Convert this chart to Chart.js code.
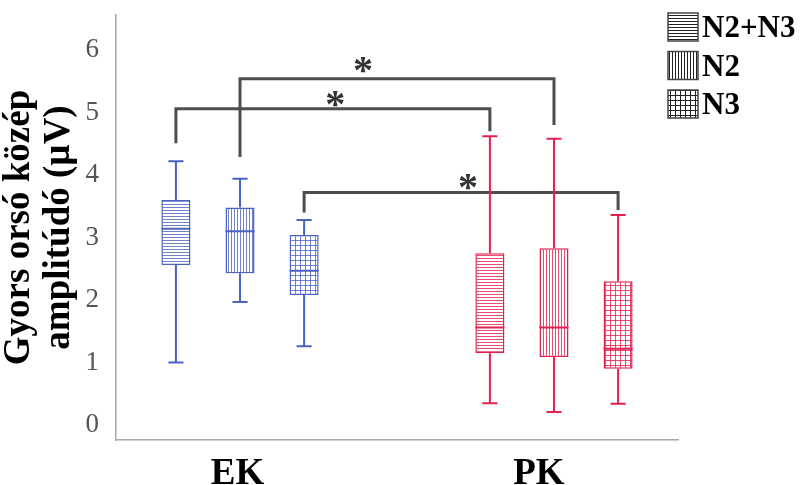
<!DOCTYPE html>
<html>
<head>
<meta charset="utf-8">
<script src="https://cdn.jsdelivr.net/npm/chart.js@4"></script>
<style>
  html, body { margin: 0; padding: 0; background: #fff; }
</style>
</head>
<body>
<canvas id="chart" width="803" height="485"></canvas>
<script>
const categories = ['EK', 'PK'];
const groupX = [1, 2];
const tickX = [0.992, 1.952];
const yTicks = [0, 1, 2, 3, 4, 5, 6];
const seriesNames = ['N2+N3', 'N2', 'N3'];
const patternKinds = ['h', 'v', 'grid'];

// one row per series, values for [EK, PK]
const whiskerLow = [[1.00, 0.35], [1.97, 0.21], [1.26, 0.34]];
const quart1 = [[2.56, 1.15], [2.43, 1.09], [2.08, 0.90]];
const medians = [[3.14, 1.56], [3.10, 1.56], [2.47, 1.22]];
const quart3 = [[3.60, 2.75], [3.48, 2.83], [3.04, 2.30]];
const whiskerHigh = [[4.22, 4.62], [3.94, 4.58], [3.28, 3.36]];

// significance brackets: series i in EK vs series i in PK
const bracketTop = [5.06, 5.54, 3.72];
const bracketLeftEnd = [4.51, 4.29, 3.40];
const bracketRightEnd = [4.70, 4.80, 3.44];
const starX = [1.303, 1.392, 1.726];
const starY = [5.25, 5.79, 3.92];

const groupLine = ['#4a63c0', '#e3204f'];
const groupHatch = ['rgba(74,99,192,0.8)', 'rgba(227,32,79,0.8)'];

function hatch(kind, color) {
  const s = kind === 'grid' ? 5 : 3;
  const c = document.createElement('canvas');
  c.width = s;
  c.height = s;
  const g = c.getContext('2d');
  g.fillStyle = '#fff';
  g.fillRect(0, 0, s, s);
  g.fillStyle = color;
  if (kind !== 'v') g.fillRect(0, 0, s, 1);
  if (kind !== 'h') g.fillRect(0, 0, 1, s);
  return g.createPattern(c, 'repeat');
}

const datasets = seriesNames.map((name, s) => ({
  label: name,
  data: groupX.map((x, i) => ({ x: x, y: [quart1[s][i], quart3[s][i]] })),
  backgroundColor: groupHatch.map(c => hatch(patternKinds[s], c)),
  borderColor: groupLine,
  borderWidth: 1.5,
  borderSkipped: false,
  categoryPercentage: 0.638,
  barPercentage: 0.453
}));

// whiskers, medians and the significance brackets
const boxExtras = {
  id: 'boxExtras',
  afterDatasetsDraw(chart) {
    const ctx = chart.ctx;
    const x = chart.scales.x, y = chart.scales.y;

    ctx.save();
    ctx.strokeStyle = '#4d4d4d';
    ctx.lineWidth = 3;
    ctx.lineJoin = 'miter';
    bracketTop.forEach((top, k) => {
      const a = chart.getDatasetMeta(k).data[0].x;
      const b = chart.getDatasetMeta(k).data[1].x;
      ctx.beginPath();
      ctx.moveTo(a, y.getPixelForValue(bracketLeftEnd[k]));
      ctx.lineTo(a, y.getPixelForValue(top));
      ctx.lineTo(b, y.getPixelForValue(top));
      ctx.lineTo(b, y.getPixelForValue(bracketRightEnd[k]));
      ctx.stroke();
    });
    ctx.fillStyle = '#333';
    ctx.font = 'bold 40px "Liberation Serif"';
    ctx.textAlign = 'center';
    ctx.textBaseline = 'alphabetic';
    starX.forEach((sx, k) => {
      ctx.fillText('*', x.getPixelForValue(sx), y.getPixelForValue(starY[k]) + 20);
    });
    ctx.restore();

    seriesNames.forEach((_, s) => {
      chart.getDatasetMeta(s).data.forEach((bar, i) => {
        const half = bar.width / 2, cap = bar.width * 0.26;
        const hi = y.getPixelForValue(whiskerHigh[s][i]);
        const lo = y.getPixelForValue(whiskerLow[s][i]);
        const med = y.getPixelForValue(medians[s][i]);
        ctx.save();
        ctx.strokeStyle = groupLine[i];
        ctx.lineWidth = 2;
        ctx.beginPath();
        ctx.moveTo(bar.x, y.getPixelForValue(quart3[s][i]));
        ctx.lineTo(bar.x, hi);
        ctx.moveTo(bar.x - cap, hi);
        ctx.lineTo(bar.x + cap, hi);
        ctx.moveTo(bar.x, y.getPixelForValue(quart1[s][i]));
        ctx.lineTo(bar.x, lo);
        ctx.moveTo(bar.x - cap, lo);
        ctx.lineTo(bar.x + cap, lo);
        ctx.moveTo(bar.x - half, med);
        ctx.lineTo(bar.x + half, med);
        ctx.stroke();
        ctx.restore();
      });
    });
  }
};

// legend with black hatch swatches in the top right corner
const hatchLegend = {
  id: 'hatchLegend',
  afterDraw(chart) {
    const ctx = chart.ctx;
    const left = chart.width - 135;
    ctx.save();
    ctx.font = 'bold 31px "Liberation Serif"';
    ctx.textBaseline = 'alphabetic';
    ctx.textAlign = 'left';
    seriesNames.forEach((name, s) => {
      const top = 13 + s * 38.5;
      ctx.fillStyle = hatch(patternKinds[s], '#222');
      ctx.fillRect(left, top, 30, 28);
      ctx.strokeStyle = '#444';
      ctx.lineWidth = 1.5;
      ctx.strokeRect(left, top, 30, 28);
      ctx.fillStyle = '#000';
      ctx.fillText(name, left + 34, top + 24);
    });
    ctx.restore();
  }
};

new Chart(document.getElementById('chart'), {
  type: 'bar',
  data: { datasets: datasets },
  options: {
    responsive: false,
    animation: false,
    layout: { padding: { top: 15, right: 125, left: 0, bottom: 0 } },
    plugins: {
      legend: { display: false },
      tooltip: { enabled: false }
    },
    scales: {
      x: {
        type: 'linear',
        offset: false,
        min: 0.605,
        max: 2.395,
        afterBuildTicks: ax => { ax.ticks = tickX.map(v => ({ value: v })); },
        afterFit: ax => { ax.height = 45; ax.paddingLeft = 0; ax.paddingRight = 0; },
        grid: { display: false },
        border: { display: true, color: '#a6a6a6', width: 1.5 },
        ticks: {
          autoSkip: false,
          maxRotation: 0,
          padding: 4,
          color: '#000',
          font: { family: 'Liberation Serif', size: 37, weight: 'bold' },
          callback: (v, i) => categories[i]
        }
      },
      y: {
        min: -0.24,
        max: 6.56,
        afterBuildTicks: ax => { ax.ticks = yTicks.map(v => ({ value: v })); },
        afterFit: ax => { ax.width = 116; ax.paddingTop = 0; ax.paddingBottom = 0; },
        grid: { display: false },
        border: { display: true, color: '#a6a6a6', width: 1.5 },
        ticks: {
          padding: 9,
          color: '#555',
          font: { family: 'Liberation Serif', size: 27 }
        },
        title: {
          display: true,
          text: ['Gyors orsó közép', 'amplitúdó (µV)'],
          color: '#000',
          padding: { top: 0, bottom: 0 },
          font: { family: 'Liberation Serif', size: 37, weight: 'bold', lineHeight: 1.07 }
        }
      }
    }
  },
  plugins: [boxExtras, hatchLegend]
});
</script>
</body>
</html>
